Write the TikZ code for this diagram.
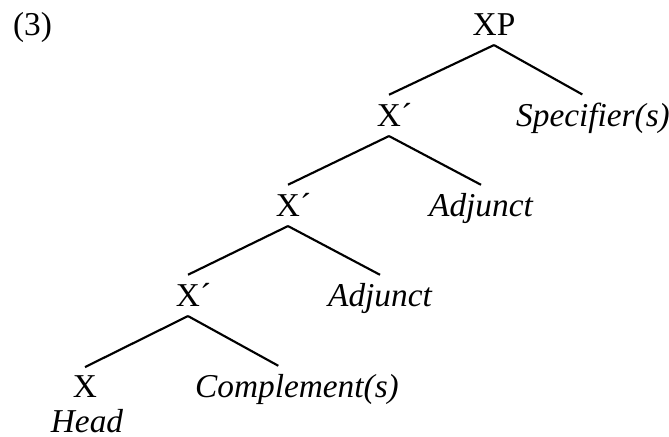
\documentclass[tikz,border=0pt]{standalone}
\usepackage{fontspec}
\setmainfont{Liberation Serif}
\begin{document}
\begin{tikzpicture}[x=0.375pt,y=-0.375pt,line width=0.8pt,
	lbl/.style={anchor=base,inner xsep=0pt,inner ysep=3pt,font=\fontsize{12.5}{14}\selectfont},
	fn/.style={lbl,font=\fontsize{12.5}{14}\selectfont\itshape}]
	\useasboundingbox (0,0) rectangle (669,437);
	\node[lbl,anchor=base west] (ex) at (12,36) {(3)};
	% spine of bar levels
	\node[lbl] (xp) at (494,36) {XP};
	\node[lbl] (xbar1) at (389,127) {X\rlap{´}};
	\node[lbl] (xbar2) at (288,217) {X\rlap{´}};
	\node[lbl] (xbar3) at (188,307) {X\rlap{´}};
	\node[lbl] (x) at (85,398) {X};
	\node[fn] (head) at (87,433) {Head};
	% right-hand daughters
	\node[fn] (spec) at (593,127) {Specifier(s)};
	\node[fn] (adj1) at (481,217) {Adjunct};
	\node[fn] (adj2) at (380,307) {Adjunct};
	\node[fn] (comp) at (297,398) {Complement(s)};
	\foreach \p/\c/\d in {xp/xbar1/0,xp/spec/-4,xbar1/xbar2/0,xbar1/adj1/0,
		xbar2/xbar3/0,xbar2/adj2/0,xbar3/x/0,xbar3/comp/-7}
		{ \draw (\p.south) -- ([xshift=\d pt]\c.north); }
\end{tikzpicture}
\end{document}
